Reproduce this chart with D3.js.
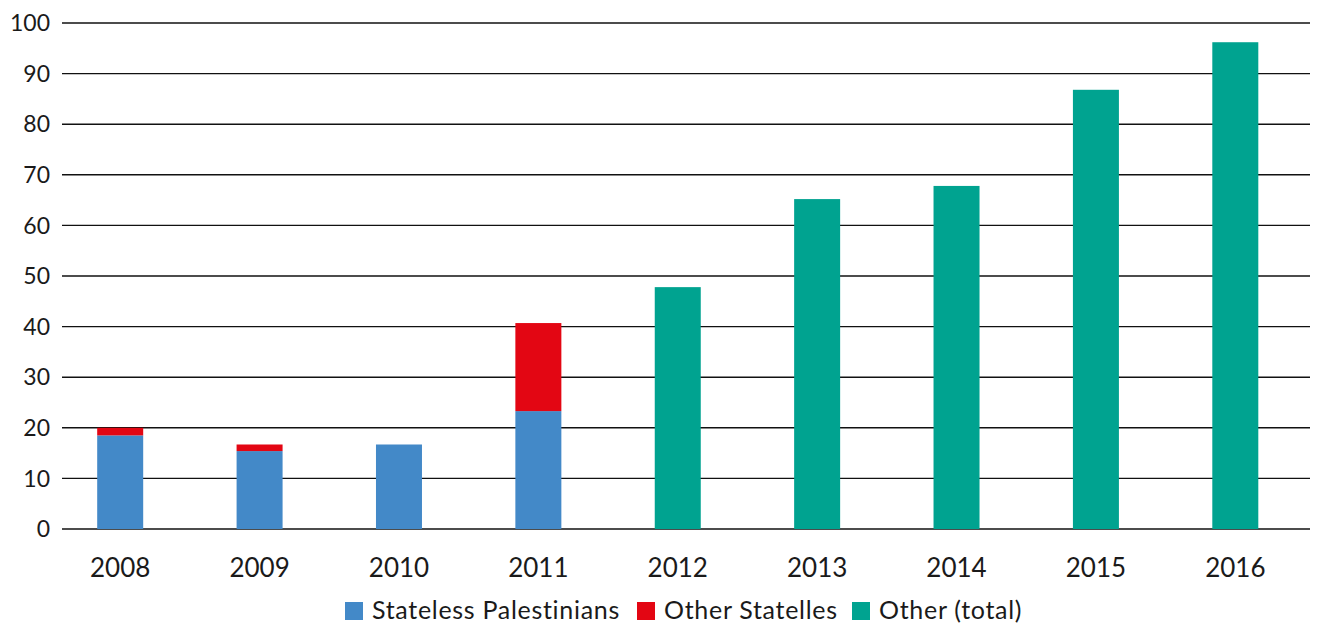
<!DOCTYPE html>
<html><head><meta charset="utf-8">
<script src="https://cdn.jsdelivr.net/npm/d3@7"></script>
<style>body{margin:0;background:#fff;} text{font-family:Lato, "Open Sans", sans-serif;fill:#1a1a1a;}</style>
</head><body>
<svg id="c" width="1325" height="623"></svg>
<script>
const years = ["2008","2009","2010","2011","2012","2013","2014","2015","2016"];
const statelessPalestinians = [18.5, 15.4, 16.7, 23.3, 0, 0, 0, 0, 0];
const otherStateless = [1.5, 1.3, 0, 17.4, 0, 0, 0, 0, 0];
const otherTotal = [0, 0, 0, 0, 47.8, 65.2, 67.8, 86.8, 96.2];
const yTicks = [0,10,20,30,40,50,60,70,80,90,100];
const seriesNames = ["Stateless Palestinians","Other Statelles","Other (total)"];
const colors = ["#4389C8","#E30613","#00A390"];

const svg = d3.select("#c");
const x = d3.scaleBand().domain(years).range([50.5, 1305]).paddingInner(0.67).paddingOuter(0.335);
const y = d3.scaleLinear().domain([0,100]).range([529, 23]);

// gridlines
svg.append("g").selectAll("line").data(yTicks).join("line")
  .attr("x1", 62).attr("x2", 1310)
  .attr("y1", d=>y(d)).attr("y2", d=>y(d))
  .attr("stroke", "#111").attr("stroke-width", 1.4);

const data = years.map((yr,i)=>({year:yr, v:[statelessPalestinians[i], otherStateless[i], otherTotal[i]]}));
const stack = d3.stack().keys([0,1,2]).value((d,k)=>d.v[k]);
const layers = stack(data);
svg.append("g").selectAll("g").data(layers).join("g")
  .attr("fill", (d,i)=>colors[i])
  .selectAll("rect").data(d=>d.filter(p=>p[1]-p[0]>0)).join("rect")
  .attr("x", d=>x(d.data.year)).attr("width", x.bandwidth())
  .attr("y", d=>y(d[1])).attr("height", d=>y(d[0])-y(d[1]));

// y axis labels
svg.append("g").selectAll("text").data(yTicks).join("text")
  .attr("x", 50).attr("y", d=>y(d)).attr("dy","0.36em")
  .attr("text-anchor","end").attr("font-size", 23).text(d=>d);

// x labels
svg.append("g").selectAll("text").data(years).join("text")
  .attr("x", d=>x(d)+x.bandwidth()/2).attr("y", 577)
  .attr("text-anchor","middle").attr("font-size", 26).text(d=>d);

// legend
const leg = svg.append("g");
const legX = [345, 637, 852];
seriesNames.forEach((n,i)=>{
  leg.append("rect").attr("x", legX[i]).attr("y", 602).attr("width", 18).attr("height", 18).attr("fill", colors[i]);
  leg.append("text").attr("x", legX[i]+27).attr("y", 619).attr("font-size", 25)
    .attr("letter-spacing", 0.7).text(n);
});
</script>
</body></html>
